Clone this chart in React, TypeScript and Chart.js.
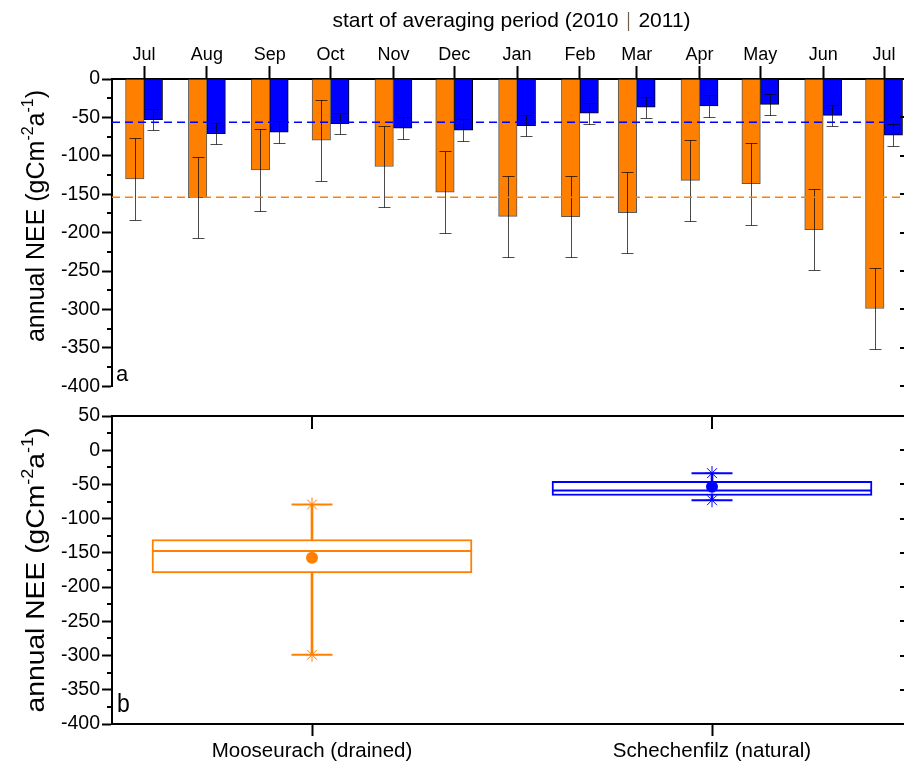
import React, { useEffect, useRef } from 'react';
import { Chart, registerables } from 'chart.js';

Chart.register(...registerables);

// ---------- data ----------
const monthLabels = ['Jul', 'Aug', 'Sep', 'Oct', 'Nov', 'Dec', 'Jan', 'Feb', 'Mar', 'Apr', 'May', 'Jun', 'Jul'];
// start of the averaging period, in days after 1 July 2010
const monthStartDay = [0, 31, 62, 92, 123, 153, 184, 215, 243, 274, 304, 335, 365];
const drainedNEE = [-130, -154.5, -118.2, -79.7, -113.9, -147.2, -178.8, -179.2, -174, -132, -136.4, -196.1, -298.7];
const drainedErr = [53, 53, 53, 53, 53, 53, 53, 53, 53, 53, 53, 53, 53];
const naturalNEE = [-52.9, -71, -69.3, -58, -64, -66.7, -60.6, -44.6, -36.8, -35.1, -33, -47.3, -73.2];
const naturalErr = [14, 14, 14, 14, 14, 14, 14, 14, 14, 14, 14, 14, 14];
const meanDrained = -153.8;
const meanNatural = -56.3;

const sites = ['Mooseurach (drained)', 'Schechenfilz (natural)'];
const boxQ3 = [-130.5, -45.4];
const boxMedian = [-147.4, -59];
const boxQ1 = [-179.3, -66.2];
const boxMean = [-157, -53.4];
const whiskerMax = [-79.3, -33.5];
const whiskerMin = [-298.8, -73];

// axis limits
const X_MIN = -15.8;
const X_MAX = 378.8;
const TOP_Y = [-400, 0];
const BOT_Y = [-400, 50];

// ---------- styles ----------
const ORANGE = '#FF8000';
const BLUE = '#0000FF';
const SITE_COLORS = [ORANGE, BLUE];
const FONT = '"Liberation Sans", Arial, sans-serif';

function drawYTitle(ctx: CanvasRenderingContext2D, baseX: number, cy: number, stretch: number) {
  const parts = [
    { t: 'annual NEE (gCm', sup: false },
    { t: '-2', sup: true },
    { t: 'a', sup: false },
    { t: '-1', sup: true },
    { t: ')', sup: false },
  ];
  const big = `25px ${FONT}`;
  const small = `16px ${FONT}`;
  let total = 0;
  const widths = parts.map((p) => {
    ctx.font = p.sup ? small : big;
    const w = ctx.measureText(p.t).width;
    total += w;
    return w;
  });
  ctx.save();
  ctx.translate(baseX, cy);
  ctx.rotate(-Math.PI / 2);
  ctx.scale(stretch, 1);
  ctx.fillStyle = '#000';
  ctx.textBaseline = 'alphabetic';
  ctx.textAlign = 'left';
  let x = -total / 2;
  parts.forEach((p, i) => {
    ctx.font = p.sup ? small : big;
    ctx.fillText(p.t, x, p.sup ? -11 : 0);
    x += widths[i];
  });
  ctx.restore();
}

function drawLeftMinor(ctx: CanvasRenderingContext2D, chart: any, values: number[]) {
  const y = chart.scales.y;
  const left = chart.chartArea.left;
  ctx.save();
  ctx.strokeStyle = '#000';
  ctx.lineWidth = 2;
  ctx.beginPath();
  values.forEach((v) => {
    const py = Math.round(y.getPixelForValue(v));
    ctx.moveTo(left - 5, py);
    ctx.lineTo(left, py);
  });
  ctx.stroke();
  ctx.restore();
}

function drawRightMajor(ctx: CanvasRenderingContext2D, chart: any, values: number[]) {
  const y = chart.scales.y;
  const right = chart.chartArea.right;
  ctx.save();
  ctx.strokeStyle = '#000';
  ctx.lineWidth = 2;
  ctx.beginPath();
  values.forEach((v) => {
    const py = Math.round(y.getPixelForValue(v));
    ctx.moveTo(right - 12, py);
    ctx.lineTo(right, py);
  });
  ctx.stroke();
  ctx.restore();
}

function range(a: number, b: number, step: number) {
  const out: number[] = [];
  for (let v = a; v <= b + 1e-9; v += step) out.push(v);
  return out;
}

const errorBarPlugin = {
  id: 'errorBars',
  afterDatasetDraw(chart: any, args: any) {
    const sets = [
      { vals: drainedNEE, errs: drainedErr },
      { vals: naturalNEE, errs: naturalErr },
    ];
    const s = sets[args.index];
    if (!s) return;
    const ctx = chart.ctx;
    const y = chart.scales.y;
    ctx.save();
    ctx.strokeStyle = 'rgba(0,0,0,0.7)';
    ctx.lineWidth = 1;
    args.meta.data.forEach((el: any, i: number) => {
      const x = Math.round(el.x) + 0.5;
      const y1 = Math.round(y.getPixelForValue(s.vals[i] + s.errs[i])) + 0.5;
      const y2 = Math.round(y.getPixelForValue(s.vals[i] - s.errs[i])) + 0.5;
      ctx.beginPath();
      ctx.moveTo(x, y1);
      ctx.lineTo(x, y2);
      ctx.moveTo(x - 6, y1);
      ctx.lineTo(x + 6, y1);
      ctx.moveTo(x - 6, y2);
      ctx.lineTo(x + 6, y2);
      ctx.stroke();
    });
    ctx.restore();
  },
};

const topDecor = {
  id: 'topDecor',
  afterDraw(chart: any) {
    const ctx = chart.ctx as CanvasRenderingContext2D;
    drawLeftMinor(ctx, chart, range(-375, -25, 50));
    drawRightMajor(ctx, chart, range(-400, -50, 50));
    // axis title with year separator
    ctx.save();
    ctx.font = `21px ${FONT}`;
    ctx.fillStyle = '#000';
    ctx.textBaseline = 'alphabetic';
    const s1 = 'start of averaging period (2010';
    const s2 = '2011)';
    const gap = 10;
    const w1 = ctx.measureText(s1).width;
    const w2 = ctx.measureText(s2).width;
    const total = w1 + 2 * gap + w2;
    const x0 = 511.5 - total / 2;
    ctx.fillText(s1, x0, 27);
    const sx = Math.round(x0 + w1 + gap) + 0.5;
    ctx.strokeStyle = '#6e5e4e';
    ctx.lineWidth = 1.2;
    ctx.beginPath();
    ctx.moveTo(sx, 12);
    ctx.lineTo(sx, 31);
    ctx.stroke();
    ctx.fillText(s2, x0 + w1 + 2 * gap, 27);
    // panel letter
    ctx.font = `22px ${FONT}`;
    ctx.fillText('a', 116, 381);
    ctx.restore();
    drawYTitle(ctx, 44, 216, 1);
  },
};

const bottomDecor = {
  id: 'bottomDecor',
  afterDraw(chart: any) {
    const ctx = chart.ctx as CanvasRenderingContext2D;
    const area = chart.chartArea;
    drawLeftMinor(ctx, chart, range(-375, 25, 50));
    drawRightMajor(ctx, chart, range(-350, 0, 50));
    ctx.save();
    ctx.strokeStyle = '#000';
    ctx.lineWidth = 2;
    ctx.beginPath();
    ctx.moveTo(area.left - 1, area.top);
    ctx.lineTo(area.right, area.top);
    const xs = chart.scales.x;
    sites.forEach((_, i) => {
      const px = Math.round(xs.getPixelForValue(i));
      ctx.moveTo(px, area.top);
      ctx.lineTo(px, area.top + 13);
    });
    ctx.stroke();
    ctx.fillStyle = '#000';
    ctx.textBaseline = 'alphabetic';
    ctx.translate(117, 312);
    ctx.scale(1, 1.13);
    ctx.font = `23px ${FONT}`;
    ctx.fillText('b', 0, 0);
    ctx.restore();
    drawYTitle(ctx, 44, 170, 1.13);
  },
};

function topConfig(): any {
  return {
    type: 'bar',
    data: {
      datasets: [
        {
          type: 'bar',
          label: 'drained',
          data: monthStartDay.map((d, i) => ({ x: d, y: drainedNEE[i] })),
          backgroundColor: ORANGE,
          borderColor: '#5a5a5a',
          borderWidth: 1,
          barThickness: 18.5,
          order: 1,
        },
        {
          type: 'bar',
          label: 'natural',
          data: monthStartDay.map((d, i) => ({ x: d, y: naturalNEE[i] })),
          backgroundColor: BLUE,
          borderColor: '#000',
          borderWidth: 1,
          barThickness: 18.5,
          order: 1,
        },
        {
          type: 'line',
          label: 'mean drained',
          data: [
            { x: X_MIN, y: meanDrained },
            { x: X_MAX, y: meanDrained },
          ],
          borderColor: ORANGE,
          borderWidth: 1.5,
          borderDash: [8, 5],
          pointRadius: 0,
          order: 0,
        },
        {
          type: 'line',
          label: 'mean natural',
          data: [
            { x: X_MIN, y: meanNatural },
            { x: X_MAX, y: meanNatural },
          ],
          borderColor: BLUE,
          borderWidth: 1.5,
          borderDash: [8, 5],
          pointRadius: 0,
          order: 0,
        },
      ],
    },
    options: {
      animation: false,
      responsive: false,
      events: [],
      layout: { autoPadding: false, padding: { left: 0, right: 8, top: 0, bottom: 13 } },
      plugins: { legend: { display: false }, tooltip: { enabled: false } },
      scales: {
        x: {
          type: 'linear',
          position: 'top',
          min: X_MIN,
          max: X_MAX,
          offset: false,
          afterBuildTicks: (s: any) => {
            s.ticks = monthStartDay.map((v) => ({ value: v }));
          },
          afterFit: (s: any) => {
            s.height = 79;
          },
          ticks: {
            autoSkip: false,
            maxRotation: 0,
            padding: 0,
            color: '#000',
            font: { family: FONT, size: 18 },
            callback: (_v: any, i: number) => monthLabels[i],
          },
          grid: {
            display: true,
            offset: false,
            drawOnChartArea: false,
            drawTicks: true,
            tickLength: 13,
            tickWidth: 2,
            tickColor: '#000',
          },
          border: { display: true, color: '#000', width: 2 },
        },
        y: {
          type: 'linear',
          min: TOP_Y[0],
          max: TOP_Y[1],
          afterFit: (s: any) => {
            s.width = 112;
          },
          ticks: {
            stepSize: 50,
            padding: 2,
            color: '#000',
            font: { family: FONT, size: 19.5 },
          },
          grid: {
            drawOnChartArea: false,
            tickLength: 10,
            tickWidth: 2,
            tickColor: '#000',
          },
          border: { display: true, color: '#000', width: 2 },
        },
      },
    },
    plugins: [errorBarPlugin, topDecor],
  };
}

function bottomConfig(): any {
  const pts = (vals: number[], extra: any) => ({
    type: 'line',
    data: vals,
    showLine: false,
    pointBorderColor: SITE_COLORS,
    pointBackgroundColor: SITE_COLORS,
    ...extra,
  });
  return {
    type: 'bar',
    data: {
      labels: sites,
      datasets: [
        {
          type: 'bar',
          label: 'whisker',
          data: sites.map((_, i) => [whiskerMin[i], whiskerMax[i]]),
          backgroundColor: SITE_COLORS,
          borderWidth: 0,
          barThickness: 2,
          grouped: false,
          order: 5,
        },
        {
          type: 'bar',
          label: 'box',
          data: sites.map((_, i) => [boxQ1[i], boxQ3[i]]),
          backgroundColor: '#ffffff',
          borderColor: SITE_COLORS,
          borderWidth: 2,
          borderSkipped: false,
          barThickness: 320,
          grouped: false,
          order: 4,
        },
        pts(boxMedian, { label: 'median', pointStyle: 'line', pointRadius: 160, pointBorderWidth: 2, order: 3 }),
        pts(whiskerMax, { label: 'max cap', pointStyle: 'line', pointRadius: 20.5, pointBorderWidth: 2, order: 2 }),
        pts(whiskerMin, { label: 'min cap', pointStyle: 'line', pointRadius: 20.5, pointBorderWidth: 2, order: 2 }),
        pts(whiskerMax, { label: 'max', pointStyle: 'star', pointRadius: 7, pointBorderWidth: 1, order: 1 }),
        pts(whiskerMin, { label: 'min', pointStyle: 'star', pointRadius: 7, pointBorderWidth: 1, order: 1 }),
        pts(boxMean, { label: 'mean', pointStyle: 'circle', pointRadius: 6, pointBorderWidth: 0, order: 0 }),
      ],
    },
    options: {
      animation: false,
      responsive: false,
      events: [],
      layout: { autoPadding: false, padding: { left: 0, right: 8, top: 16, bottom: 0 } },
      plugins: { legend: { display: false }, tooltip: { enabled: false } },
      scales: {
        x: {
          type: 'category',
          offset: true,
          afterFit: (s: any) => {
            s.height = 40;
          },
          ticks: {
            autoSkip: false,
            maxRotation: 0,
            padding: 3,
            color: '#000',
            font: { family: FONT, size: 20.5 },
          },
          grid: {
            display: true,
            offset: false,
            drawOnChartArea: false,
            tickLength: 12,
            tickWidth: 2,
            tickColor: '#000',
          },
          border: { display: true, color: '#000', width: 2 },
        },
        y: {
          type: 'linear',
          min: BOT_Y[0],
          max: BOT_Y[1],
          afterFit: (s: any) => {
            s.width = 112;
          },
          ticks: {
            stepSize: 50,
            padding: 2,
            color: '#000',
            font: { family: FONT, size: 19.5 },
          },
          grid: {
            drawOnChartArea: false,
            tickLength: 10,
            tickWidth: 2,
            tickColor: '#000',
          },
          border: { display: true, color: '#000', width: 2 },
        },
      },
    },
    plugins: [bottomDecor],
  };
}

export default function App() {
  const topRef = useRef<HTMLCanvasElement>(null);
  const botRef = useRef<HTMLCanvasElement>(null);
  useEffect(() => {
    const c1 = new Chart(topRef.current as HTMLCanvasElement, topConfig());
    const c2 = new Chart(botRef.current as HTMLCanvasElement, bottomConfig());
    return () => {
      c1.destroy();
      c2.destroy();
    };
  }, []);
  return (
    <div
      style={{
        position: 'absolute',
        left: 0,
        top: 0,
        width: 904,
        height: 764,
        overflow: 'hidden',
        background: '#fff',
      }}
    >
      <canvas ref={topRef} width={920} height={400} style={{ position: 'absolute', left: 0, top: 0 }} />
      <canvas ref={botRef} width={920} height={364} style={{ position: 'absolute', left: 0, top: 400 }} />
    </div>
  );
}
